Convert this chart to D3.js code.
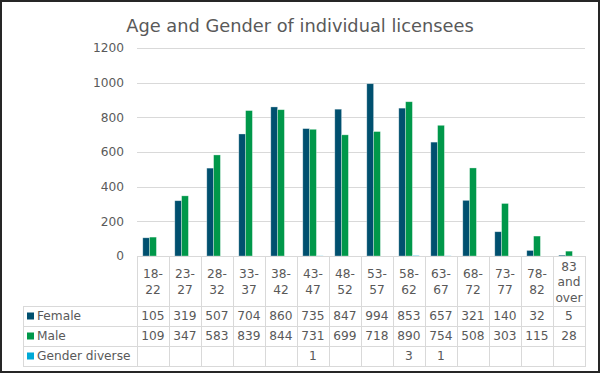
<!DOCTYPE html>
<html>
<head>
<meta charset="utf-8">
<script src="https://cdn.jsdelivr.net/npm/d3@7"></script>
<style>
  html, body { margin: 0; padding: 0; background: #fff; }
  svg { display: block; }
  text { font-family: "DejaVu Sans", Verdana, sans-serif; fill: #595959; }
</style>
</head>
<body>
<svg id="chart" width="600" height="373"></svg>
<script>
const title = "Age and Gender of individual licensees";
const categories = ["18-22","23-27","28-32","33-37","38-42","43-47","48-52","53-57","58-62","63-67","68-72","73-77","78-82","83 and over"];
const categoryLines = [["18-","22"],["23-","27"],["28-","32"],["33-","37"],["38-","42"],["43-","47"],["48-","52"],["53-","57"],["58-","62"],["63-","67"],["68-","72"],["73-","77"],["78-","82"],["83","and","over"]];
const seriesNames = ["Female","Male","Gender diverse"];
const female = [105,319,507,704,860,735,847,994,853,657,321,140,32,5];
const male = [109,347,583,839,844,731,699,718,890,754,508,303,115,28];
const genderDiverse = [null,null,null,null,null,1,null,null,3,1,null,null,null,null];
const yTicks = [0,200,400,600,800,1000,1200];
const colors = ["#00506f","#00984a","#00a9d6"];

const seriesValues = [female, male, genderDiverse];
const svg = d3.select("#chart");

const plotLeft = 137, plotRight = 585, plotTop = 48, plotBottom = 256;
const legendLeft = 23;
const rowTops = [306, 326, 346];
const rowH = 20;
const tableBottom = 366;
const gridColor = "#d9d9d9";

const x = d3.scaleBand().domain(categories).range([plotLeft, plotRight]).padding(0);
const bw = x.bandwidth();
const x1 = d3.scaleBand().domain(seriesNames).range([bw * 0.181, bw * 0.819]).padding(0);
const y = d3.scaleLinear().domain([0, 1200]).range([plotBottom, plotTop]);

// outer frame
svg.append("rect").attr("x", 1).attr("y", 1).attr("width", 598).attr("height", 371)
  .attr("fill", "none").attr("stroke", "#262626").attr("stroke-width", 2);

// title
svg.append("text").attr("x", 300).attr("y", 32).attr("text-anchor", "middle")
  .style("font-size", "17.8px").text(title);

// gridlines
svg.append("g").selectAll("line").data(yTicks.filter(t => t > 0)).join("line")
  .attr("x1", plotLeft).attr("x2", plotRight)
  .attr("y1", d => Math.round(y(d)) + 0.5).attr("y2", d => Math.round(y(d)) + 0.5)
  .attr("stroke", gridColor).attr("stroke-width", 1);

// y axis labels
const yAxis = d3.axisLeft(y).tickValues(yTicks).tickFormat(d3.format("d")).tickSize(0).tickPadding(13);
const gy = svg.append("g").attr("transform", `translate(${plotLeft},0)`).call(yAxis);
gy.select(".domain").remove();
gy.selectAll("text").style("font-size", "12.2px").style("font-family", "DejaVu Sans, Verdana, sans-serif").attr("fill", "#595959");

// bars
const data = [];
categories.forEach((c, i) => {
  seriesNames.forEach((s, j) => {
    const v = seriesValues[j][i];
    if (v != null) data.push({ c, s, v, j });
  });
});
svg.append("g").selectAll("rect").data(data).join("rect")
  .attr("x", d => x(d.c) + x1(d.s))
  .attr("width", x1.bandwidth())
  .attr("y", d => y(d.v))
  .attr("height", d => y(0) - y(d.v))
  .attr("fill", d => colors[d.j])
  .attr("stroke", "rgba(255,255,255,0.45)")
  .attr("stroke-width", 0.7);

// table lines
const tl = svg.append("g").attr("stroke", gridColor).attr("stroke-width", 1);
tl.append("line").attr("x1", plotLeft).attr("x2", plotRight).attr("y1", plotBottom + 0.5).attr("y2", plotBottom + 0.5);
rowTops.concat([tableBottom]).forEach(yy => {
  tl.append("line").attr("x1", legendLeft).attr("x2", plotRight).attr("y1", yy + 0.5).attr("y2", yy + 0.5);
});
const xs = categories.map(c => x(c)).concat([plotRight]);
xs.forEach(xx => {
  tl.append("line").attr("x1", Math.round(xx) + 0.5).attr("x2", Math.round(xx) + 0.5)
    .attr("y1", plotBottom).attr("y2", tableBottom + 1);
});
tl.append("line").attr("x1", legendLeft + 0.5).attr("x2", legendLeft + 0.5).attr("y1", rowTops[0]).attr("y2", tableBottom + 1);

// category labels
const headerMid = (plotBottom + rowTops[0]) / 2 + 1;
const lineH = 15.5;
const gCat = svg.append("g");
categories.forEach((c, i) => {
  const lines = categoryLines[i];
  const cx = x(c) + bw / 2;
  const startY = headerMid - (lines.length - 1) * lineH / 2;
  lines.forEach((ln, k) => {
    gCat.append("text").attr("x", cx).attr("y", startY + k * lineH)
      .attr("text-anchor", "middle").attr("dominant-baseline", "central")
      .style("font-size", "12.2px").text(ln);
  });
});

// table values and legend
seriesNames.forEach((s, j) => {
  const cy = rowTops[j] + rowH / 2;
  svg.append("rect").attr("x", 27).attr("y", cy - 3.5).attr("width", 7).attr("height", 7).attr("fill", colors[j]);
  svg.append("text").attr("x", 37).attr("y", cy).attr("dominant-baseline", "central")
    .style("font-size", "12.2px").text(s);
  categories.forEach((c, i) => {
    const v = seriesValues[j][i];
    if (v == null) return;
    svg.append("text").attr("x", x(c) + bw / 2).attr("y", cy).attr("text-anchor", "middle")
      .attr("dominant-baseline", "central").style("font-size", "12.2px").text(v);
  });
});
</script>
</body>
</html>
